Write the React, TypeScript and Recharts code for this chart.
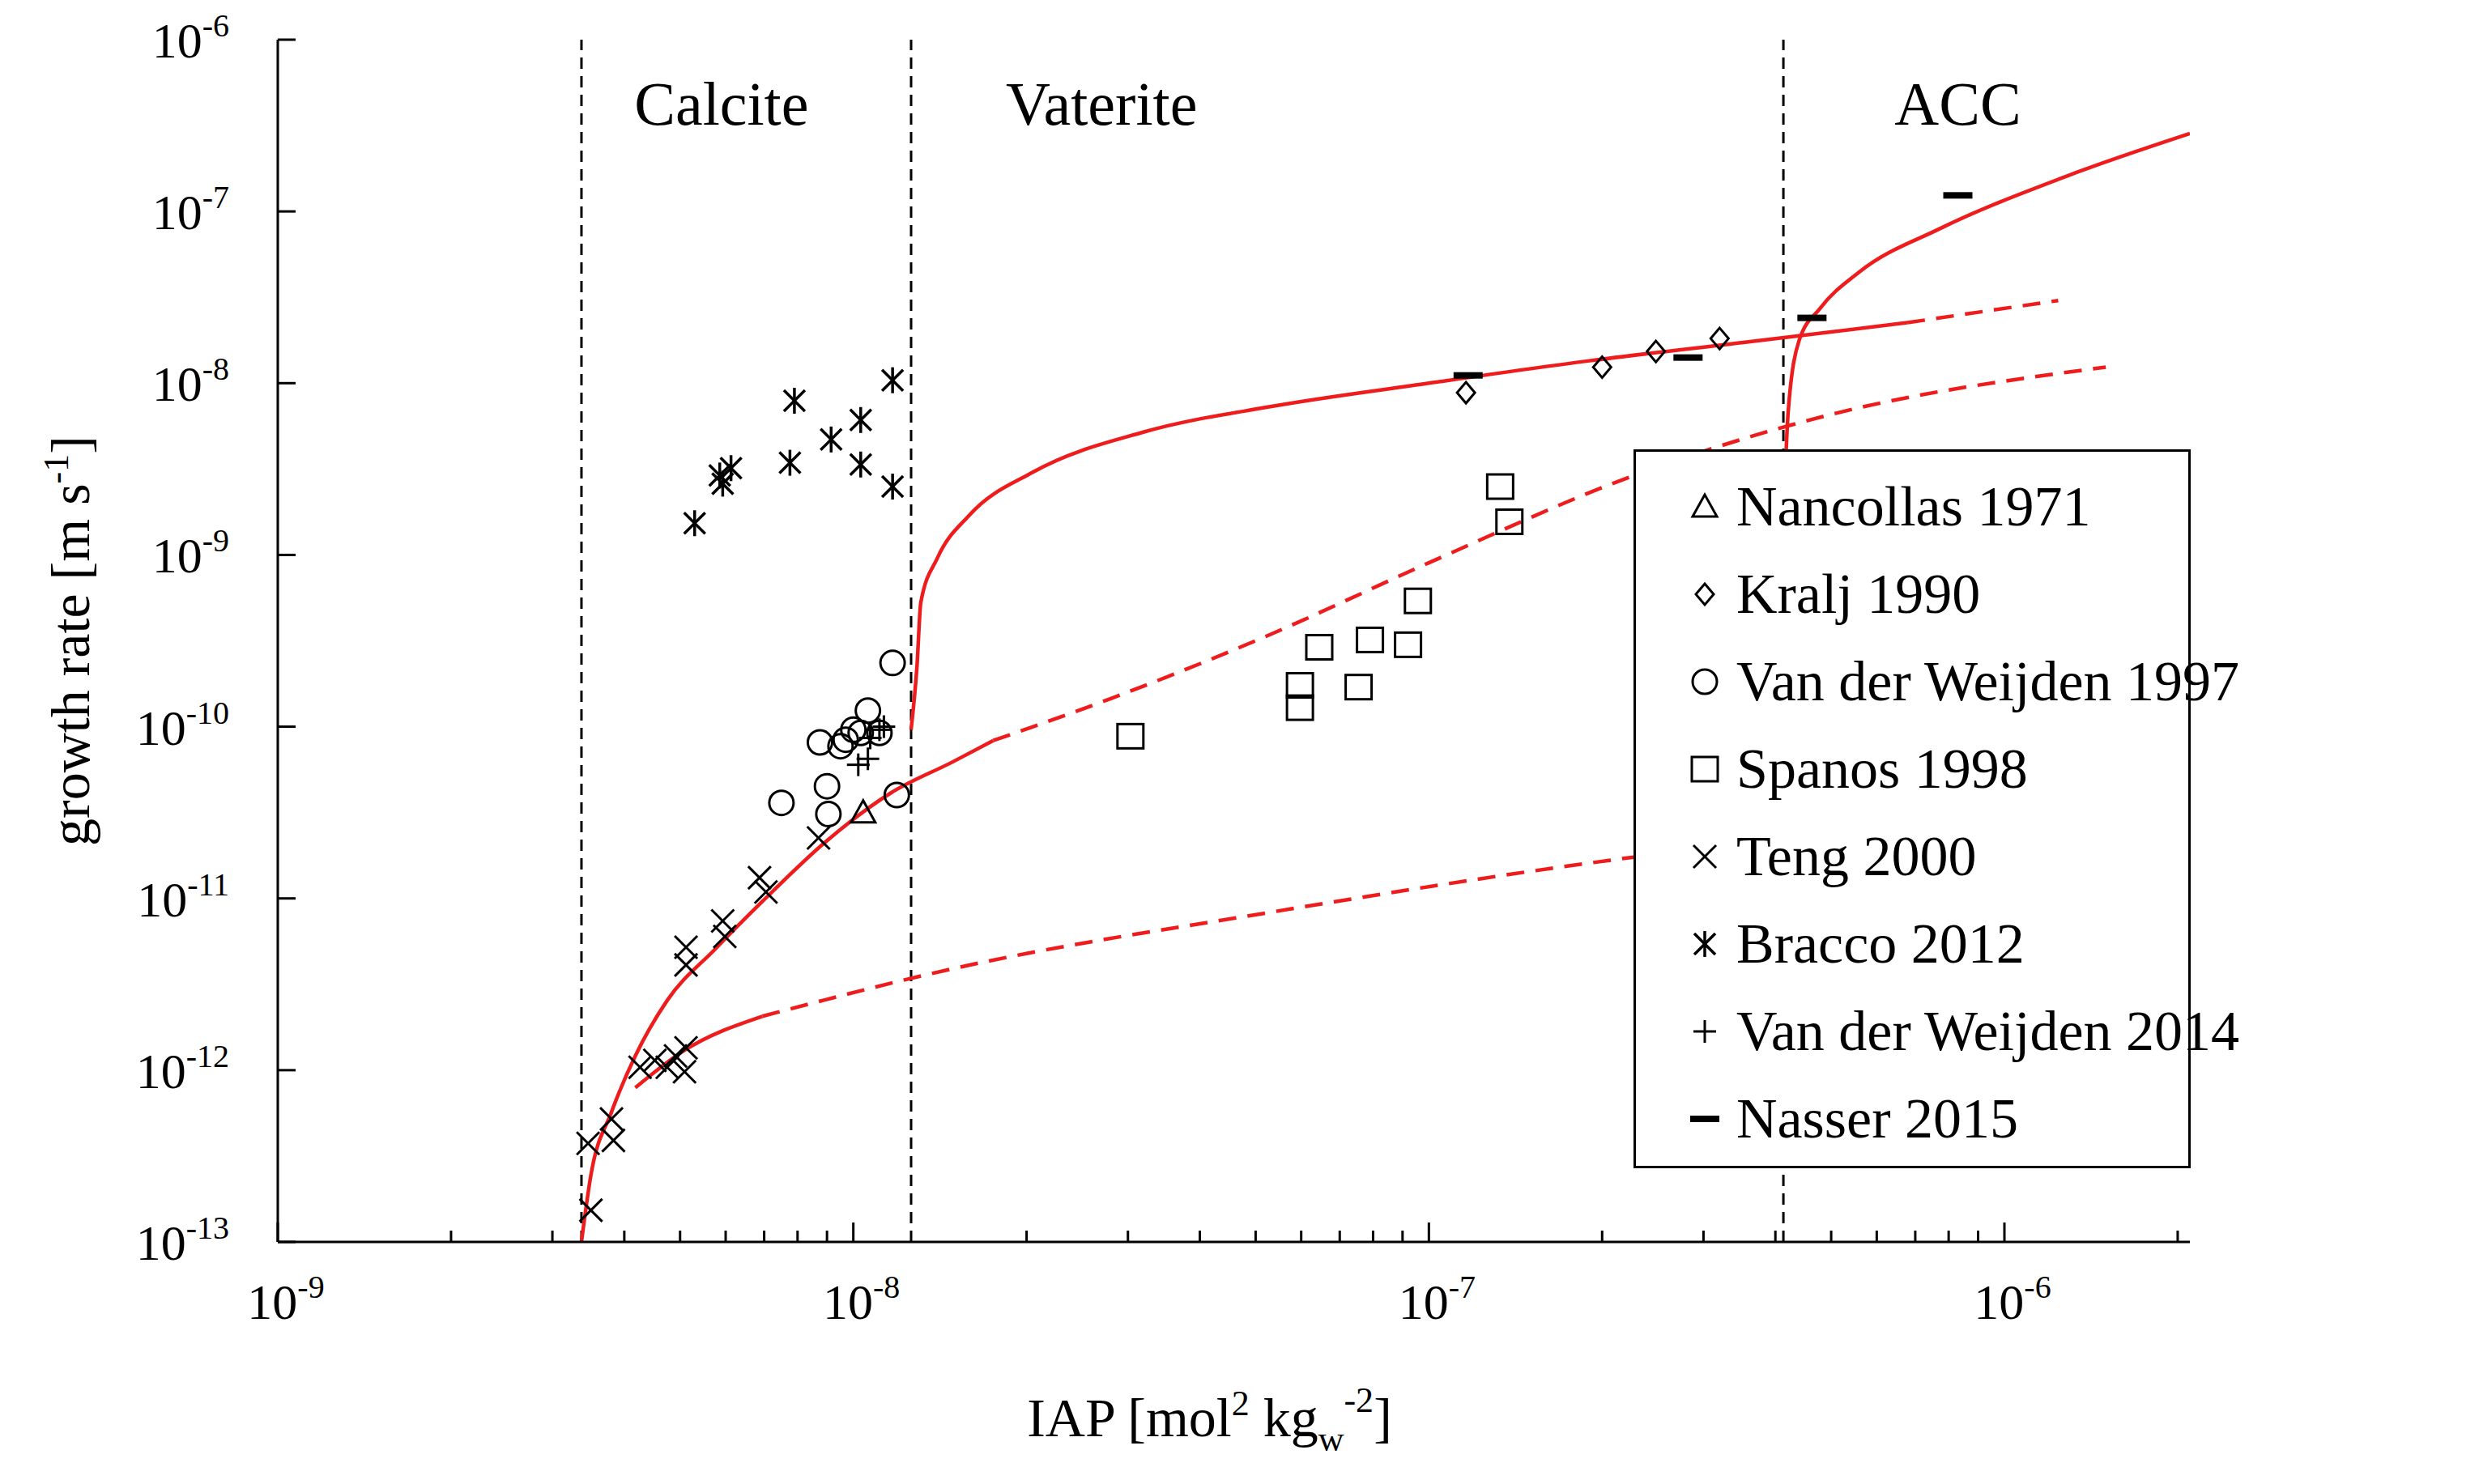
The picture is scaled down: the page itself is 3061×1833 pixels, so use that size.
import React from "react";
import {
  ComposedChart,
  Line,
  Scatter,
  XAxis,
  YAxis,
  ReferenceLine,
  ReferenceDot,
} from "recharts";

// ---- data ----
const nancollas = [{ x: 1.04e-8, y: 3.16e-11 }];
const kralj = [
  { x: 1.16e-7, y: 8.8e-9 },
  { x: 2.0e-7, y: 1.24e-8 },
  { x: 2.48e-7, y: 1.53e-8 },
  { x: 3.2e-7, y: 1.82e-8 },
];
const weijden1997 = [
  { x: 7.5e-9, y: 3.6e-11 },
  { x: 8.75e-9, y: 8.1e-11 },
  { x: 9.0e-9, y: 4.5e-11 },
  { x: 9.05e-9, y: 3.1e-11 },
  { x: 9.5e-9, y: 7.7e-11 },
  { x: 9.7e-9, y: 8.4e-11 },
  { x: 1.03e-8, y: 9.2e-11 },
  { x: 1.06e-8, y: 1.24e-10 },
  { x: 1.11e-8, y: 9.2e-11 },
  { x: 1.17e-8, y: 2.35e-10 },
  { x: 1.19e-8, y: 4.0e-11 },
  { x: 1.0e-8, y: 9.6e-11 },
];
const spanos = [
  { x: 3.03e-8, y: 8.8e-11 },
  { x: 5.97e-8, y: 1.74e-10 },
  { x: 5.97e-8, y: 1.29e-10 },
  { x: 6.45e-8, y: 2.9e-10 },
  { x: 7.55e-8, y: 1.7e-10 },
  { x: 7.9e-8, y: 3.2e-10 },
  { x: 9.2e-8, y: 3.0e-10 },
  { x: 9.57e-8, y: 5.4e-10 },
  { x: 1.33e-7, y: 2.5e-9 },
  { x: 1.38e-7, y: 1.56e-9 },
];
const teng = [
  { x: 3.5e-9, y: 1.53e-13 },
  { x: 3.46e-9, y: 3.75e-13 },
  { x: 3.83e-9, y: 3.9e-13 },
  { x: 3.8e-9, y: 5.2e-13 },
  { x: 4.26e-9, y: 1.04e-12 },
  { x: 4.52e-9, y: 1.14e-12 },
  { x: 4.75e-9, y: 1.04e-12 },
  { x: 4.91e-9, y: 1.21e-12 },
  { x: 5.12e-9, y: 1.35e-12 },
  { x: 5.09e-9, y: 9.8e-13 },
  { x: 5.12e-9, y: 5.2e-12 },
  { x: 5.12e-9, y: 4.1e-12 },
  { x: 5.93e-9, y: 7.4e-12 },
  { x: 5.98e-9, y: 6.0e-12 },
  { x: 6.87e-9, y: 1.32e-11 },
  { x: 7.05e-9, y: 1.09e-11 },
  { x: 8.7e-9, y: 2.25e-11 },
];
const bracco = [
  { x: 5.3e-9, y: 1.53e-9 },
  { x: 5.86e-9, y: 2.9e-9 },
  { x: 5.93e-9, y: 2.6e-9 },
  { x: 6.13e-9, y: 3.2e-9 },
  { x: 7.9e-9, y: 7.9e-9 },
  { x: 7.76e-9, y: 3.44e-9 },
  { x: 9.15e-9, y: 4.7e-9 },
  { x: 1.03e-8, y: 6.1e-9 },
  { x: 1.03e-8, y: 3.36e-9 },
  { x: 1.17e-8, y: 1.04e-8 },
  { x: 1.17e-8, y: 2.5e-9 },
];
const weijden2014 = [
  { x: 1.02e-8, y: 6.0e-11 },
  { x: 1.06e-8, y: 6.5e-11 },
  { x: 1.11e-8, y: 9.6e-11 },
  { x: 1.07e-8, y: 8.6e-11 },
  { x: 1.13e-8, y: 1.0e-10 },
];
const nasser = [
  { x: 1.17e-7, y: 1.11e-8 },
  { x: 2.82e-7, y: 1.41e-8 },
  { x: 4.63e-7, y: 2.4e-8 },
  { x: 8.3e-7, y: 1.24e-7 },
];

// model curves
const calciteSolid = [
  { x: 3.37e-9, y: 1.0e-13 },
  { x: 3.5e-9, y: 2.45e-13 },
  { x: 3.8e-9, y: 5.7e-13 },
  { x: 4.18e-9, y: 1.21e-12 },
  { x: 4.75e-9, y: 2.55e-12 },
  { x: 5.75e-9, y: 5.06e-12 },
  { x: 6.95e-9, y: 9.6e-12 },
  { x: 8.97e-9, y: 2.15e-11 },
  { x: 1.16e-8, y: 4.1e-11 },
  { x: 1.49e-8, y: 6.25e-11 },
  { x: 1.75e-8, y: 8.3e-11 },
];
const calciteDashed = [
  { x: 1.75e-8, y: 8.3e-11 },
  { x: 2.82e-8, y: 1.47e-10 },
  { x: 5.3e-8, y: 3.44e-10 },
  { x: 1.0e-7, y: 9.0e-10 },
  { x: 2.27e-7, y: 2.9e-9 },
  { x: 4.93e-7, y: 6.5e-9 },
  { x: 1.5e-6, y: 1.24e-8 },
];
const lowerSolid = [
  { x: 4.18e-9, y: 7.9e-13 },
  { x: 5.06e-9, y: 1.29e-12 },
  { x: 6.95e-9, y: 2.06e-12 },
];
const lowerDashed = [
  { x: 6.95e-9, y: 2.06e-12 },
  { x: 1.49e-8, y: 3.9e-12 },
  { x: 5.3e-8, y: 8.3e-12 },
  { x: 2.27e-7, y: 1.74e-11 },
  { x: 1.5e-6, y: 3.3e-11 },
];
const vateriteSolid = [
  { x: 1.26e-8, y: 9.6e-11 },
  { x: 1.29e-8, y: 2.25e-10 },
  { x: 1.31e-8, y: 5.3e-10 },
  { x: 1.4e-8, y: 9.6e-10 },
  { x: 1.59e-8, y: 1.7e-9 },
  { x: 2.05e-8, y: 3.03e-9 },
  { x: 3.2e-8, y: 5.2e-9 },
  { x: 5.3e-8, y: 7.3e-9 },
  { x: 1.0e-7, y: 1.0e-8 },
  { x: 1.9e-7, y: 1.35e-8 },
  { x: 3.59e-7, y: 1.74e-8 },
  { x: 6.78e-7, y: 2.25e-8 },
];
const vateriteDashed = [
  { x: 6.78e-7, y: 2.25e-8 },
  { x: 1.24e-6, y: 3.03e-8 },
];
const accSolid = [
  { x: 4.13e-7, y: 1.53e-9 },
  { x: 4.21e-7, y: 6.8e-9 },
  { x: 4.4e-7, y: 1.78e-8 },
  { x: 4.78e-7, y: 2.72e-8 },
  { x: 5.6e-7, y: 4.45e-8 },
  { x: 7.7e-7, y: 7.9e-8 },
  { x: 1.28e-6, y: 1.6e-7 },
  { x: 2.1e-6, y: 2.84e-7 },
];

const boundaries = [3.37e-9, 1.26e-8, 4.13e-7];
const regions = [
  { name: "Calcite", x: 5.9e-9, y: 4.3e-7 },
  { name: "Vaterite", x: 2.7e-8, y: 4.3e-7 },
  { name: "ACC", x: 8.3e-7, y: 4.3e-7 },
];

const yMajor = [-13, -12, -11, -10, -9, -8, -7, -6];
const xTicks: number[] = [];
[-9, -8, -7, -6].forEach((e) => {
  for (let m = 1; m <= 9; m++) {
    const v = m * Math.pow(10, e);
    if (v <= 2.1e-6) xTicks.push(v);
  }
});
const yTicks = yMajor.map((e) => Math.pow(10, e));

const legendItems = [
  { kind: "triangle", name: "Nancollas 1971" },
  { kind: "diamond", name: "Kralj 1990" },
  { kind: "circle", name: "Van der Weijden 1997" },
  { kind: "square", name: "Spanos 1998" },
  { kind: "cross", name: "Teng 2000" },
  { kind: "asterisk", name: "Bracco 2012" },
  { kind: "plus", name: "Van der Weijden 2014" },
  { kind: "dash", name: "Nasser 2015" },
];

// ---- layout ----
const W = 3061;
const H = 1833;
const LEFT = 343;
const RIGHT = 2704;
const TOP = 49;
const BOTTOM = 1534;
const FONT = "'Liberation Serif', 'DejaVu Serif', serif";
const RED = "#ee1c1c";

function Marker({ kind, cx, cy }: { kind: string; cx: number; cy: number }) {
  const s = { stroke: "#000", strokeWidth: 3, fill: "none" };
  const r = 15;
  switch (kind) {
    case "triangle":
      return <polygon points={`${cx},${cy - r} ${cx - r},${cy + r * 0.8} ${cx + r},${cy + r * 0.8}`} {...s} />;
    case "diamond":
      return <polygon points={`${cx},${cy - 13} ${cx + 11},${cy} ${cx},${cy + 13} ${cx - 11},${cy}`} {...s} />;
    case "circle":
      return <circle cx={cx} cy={cy} r={15} {...s} />;
    case "square":
      return <rect x={cx - 16} y={cy - 15} width={32} height={30} {...s} />;
    case "cross":
      return (
        <g {...s}>
          <line x1={cx - 14} y1={cy - 14} x2={cx + 14} y2={cy + 14} />
          <line x1={cx - 14} y1={cy + 14} x2={cx + 14} y2={cy - 14} />
        </g>
      );
    case "asterisk":
      return (
        <g {...s} strokeWidth={3.5}>
          <line x1={cx - 13} y1={cy - 13} x2={cx + 13} y2={cy + 13} />
          <line x1={cx - 13} y1={cy + 13} x2={cx + 13} y2={cy - 13} />
          <line x1={cx} y1={cy - 16} x2={cx} y2={cy + 16} />
        </g>
      );
    case "plus":
      return (
        <g {...s}>
          <line x1={cx - 14} y1={cy} x2={cx + 14} y2={cy} />
          <line x1={cx} y1={cy - 14} x2={cx} y2={cy + 14} />
        </g>
      );
    case "dash":
      return <rect x={cx - 18} y={cy - 4} width={36} height={8} fill="#000" />;
    default:
      return null;
  }
}

const shapeFor = (kind: string) => (props: any) => <Marker kind={kind} cx={props.cx} cy={props.cy} />;

function Pow({ x, y, exp, anchor }: { x: number; y: number; exp: number; anchor: string }) {
  return (
    <text x={x} y={y} textAnchor={anchor as any} fontFamily={FONT} fontSize={62} fill="#000">
      10
      <tspan fontSize={40} dy={-26}>
        {exp}
      </tspan>
    </text>
  );
}

function XTickBottom(props: any) {
  const { x, payload } = props;
  const lg = Math.log10(payload.value);
  const major = Math.abs(lg - Math.round(lg)) < 1e-6;
  return (
    <g>
      <line x1={x} x2={x} y1={BOTTOM} y2={BOTTOM - (major ? 24 : 14)} stroke="#000" strokeWidth={3} />
      {major && <Pow x={x + 10} y={BOTTOM + 95} exp={Math.round(lg)} anchor="middle" />}
    </g>
  );
}

function XTickTop(props: any) {
  const { x, payload } = props;
  const lg = Math.log10(payload.value);
  const major = Math.abs(lg - Math.round(lg)) < 1e-6;
  return <line x1={x} x2={x} y1={TOP} y2={TOP + (major ? 24 : 14)} stroke="#000" strokeWidth={3} />;
}

function YTick(props: any) {
  const { y, payload } = props;
  const lg = Math.round(Math.log10(payload.value));
  return (
    <g>
      <line x1={LEFT} x2={LEFT + 22} y1={y} y2={y} stroke="#000" strokeWidth={3} />
      <Pow x={LEFT - 60} y={y + 22} exp={lg} anchor="end" />
    </g>
  );
}

function LegendBox() {
  return (
    <div
      style={{
        position: "absolute",
        left: 2017,
        top: 555,
        background: "#fff",
        border: "3px solid #000",
        width: 688,
        height: 888,
        boxSizing: "border-box",
        padding: "14px 0 0 60px",
        fontFamily: FONT,
        fontSize: 70,
        lineHeight: "108px",
      }}
    >
      {legendItems.map((it) => (
        <div key={it.name} style={{ display: "flex", alignItems: "center", whiteSpace: "nowrap" }}>
          <svg width={50} height={50} style={{ marginRight: 14, flexShrink: 0 }}>
            <Marker kind={it.kind} cx={25} cy={25} />
          </svg>
          {it.name}
        </div>
      ))}
    </div>
  );
}

export default function App() {
  return (
    <div style={{ width: W, height: H, background: "#fff", position: "relative" }}>
      <style>{`body{margin:0}`}</style>
      <ComposedChart
        width={W}
        height={H}
        margin={{ top: TOP, right: W - RIGHT, bottom: H - BOTTOM - 100, left: LEFT - 200 }}
      >
        <XAxis
          xAxisId="b"
          type="number"
          dataKey="x"
          scale="log"
          domain={[1e-9, 2.1e-6]}
          allowDataOverflow
          ticks={xTicks}
          interval={0}
          tick={<XTickBottom />}
          tickLine={false}
          axisLine={{ stroke: "#000", strokeWidth: 3 }}
          height={100}
          label={() => (
            <text x={(LEFT + RIGHT) / 2 - 30} y={BOTTOM + 240} textAnchor="middle" fontFamily={FONT} fontSize={68}>
              IAP [mol<tspan fontSize={44} dy={-26}>2</tspan>
              <tspan dy={26}> kg</tspan>
              <tspan fontSize={44} dy={18}>w</tspan>
              <tspan fontSize={44} dy={-48}>-2</tspan>
              <tspan dy={30}>]</tspan>
            </text>
          )}
        />
        <XAxis
          xAxisId="t"
          orientation="top"
          type="number"
          dataKey="x"
          scale="log"
          domain={[1e-9, 2.1e-6]}
          allowDataOverflow
          ticks={xTicks}
          interval={0}
          tick={<XTickTop />}
          tickLine={false}
          axisLine={{ stroke: "#000", strokeWidth: 3 }}
          height={0}
        />
        <YAxis
          yAxisId="l"
          type="number"
          dataKey="y"
          scale="log"
          domain={[1e-13, 1e-6]}
          allowDataOverflow
          ticks={yTicks}
          interval={0}
          tick={<YTick />}
          tickLine={false}
          axisLine={{ stroke: "#000", strokeWidth: 3 }}
          width={200}
          label={() => (
            <text
              transform={`translate(${110},${(TOP + BOTTOM) / 2}) rotate(-90)`}
              textAnchor="middle"
              fontFamily={FONT}
              fontSize={68}
            >
              growth rate [m s<tspan fontSize={44} dy={-26}>-1</tspan>
              <tspan dy={26}>]</tspan>
            </text>
          )}
        />
        <YAxis
          yAxisId="r"
          orientation="right"
          type="number"
          scale="log"
          domain={[1e-13, 1e-6]}
          tick={false}
          tickLine={false}
          axisLine={{ stroke: "#000", strokeWidth: 3 }}
          width={0}
        />
        {boundaries.map((b) => (
          <ReferenceLine key={b} x={b} xAxisId="b" yAxisId="l" stroke="#000" strokeWidth={3} strokeDasharray="14 9" />
        ))}
        {regions.map((r) => (
          <ReferenceDot
            key={r.name}
            x={r.x}
            y={r.y}
            xAxisId="b"
            yAxisId="l"
            r={0}
            fill="none"
            stroke="none"
            label={{ value: r.name, position: "center", fontSize: 76, fontFamily: FONT, fill: "#000" }}
          />
        ))}
        {[
          { d: calciteSolid, dash: undefined },
          { d: calciteDashed, dash: "22 14" },
          { d: lowerSolid, dash: undefined },
          { d: lowerDashed, dash: "22 14" },
          { d: vateriteSolid, dash: undefined },
          { d: vateriteDashed, dash: "22 14" },
          { d: accSolid, dash: undefined },
        ].map((c, i) => (
          <Line
            key={i}
            xAxisId="b"
            yAxisId="l"
            data={c.d}
            dataKey="y"
            type="monotone"
            stroke={RED}
            strokeWidth={4.5}
            strokeDasharray={c.dash}
            dot={false}
            activeDot={false}
            isAnimationActive={false}
          />
        ))}
        <Scatter xAxisId="b" yAxisId="l" data={nancollas} shape={shapeFor("triangle")} isAnimationActive={false} />
        <Scatter xAxisId="b" yAxisId="l" data={kralj} shape={shapeFor("diamond")} isAnimationActive={false} />
        <Scatter xAxisId="b" yAxisId="l" data={weijden1997} shape={shapeFor("circle")} isAnimationActive={false} />
        <Scatter xAxisId="b" yAxisId="l" data={spanos} shape={shapeFor("square")} isAnimationActive={false} />
        <Scatter xAxisId="b" yAxisId="l" data={teng} shape={shapeFor("cross")} isAnimationActive={false} />
        <Scatter xAxisId="b" yAxisId="l" data={bracco} shape={shapeFor("asterisk")} isAnimationActive={false} />
        <Scatter xAxisId="b" yAxisId="l" data={weijden2014} shape={shapeFor("plus")} isAnimationActive={false} />
        <Scatter xAxisId="b" yAxisId="l" data={nasser} shape={shapeFor("dash")} isAnimationActive={false} />
      </ComposedChart>
      <LegendBox />
    </div>
  );
}
